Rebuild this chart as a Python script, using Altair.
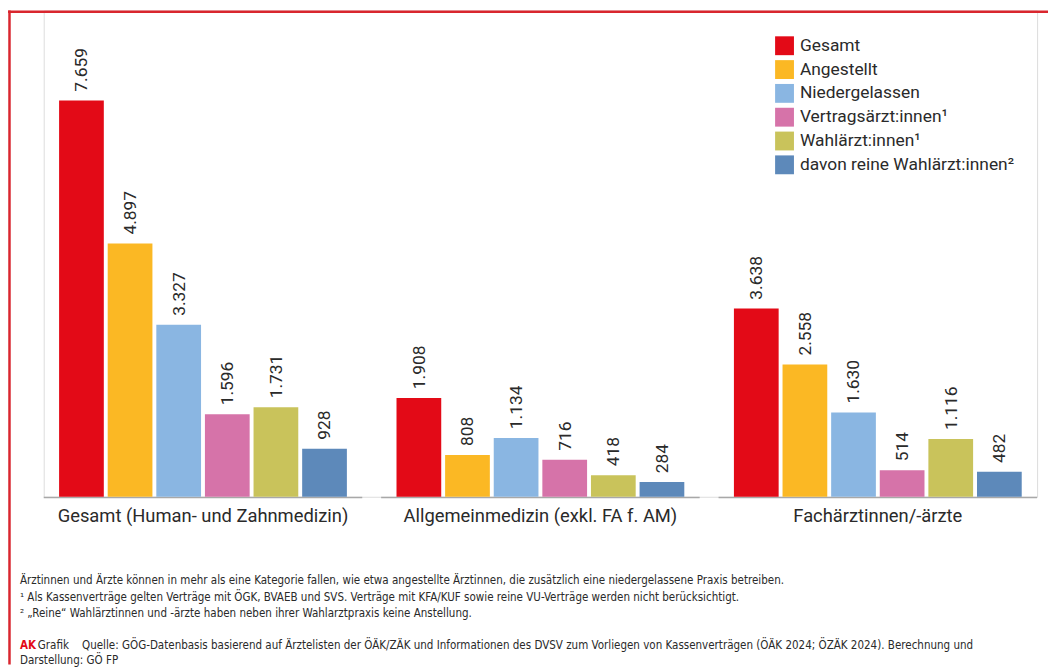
import altair as alt
import pandas as pd

groups = ["Gesamt (Human- und Zahnmedizin)", "Allgemeinmedizin (exkl. FA f. AM)", "Fachärztinnen/-ärzte"]
categories = ["Gesamt", "Angestellt", "Niedergelassen", "Vertragsärzt:innen¹", "Wahlärzt:innen¹", "davon reine Wahlärzt:innen²"]
colors = ["#E30A17", "#FBB824", "#8AB6E2", "#D673A9", "#C9C35B", "#5D89BA"]
values_gesamt = [7659, 4897, 3327, 1596, 1731, 928]
values_allgemein = [1908, 808, 1134, 716, 418, 284]
values_fach = [3638, 2558, 1630, 514, 1116, 482]

notes = [
    "Ärztinnen und Ärzte können in mehr als eine Kategorie fallen, wie etwa angestellte Ärztinnen, die zusätzlich eine niedergelassene Praxis betreiben.",
    "¹ Als Kassenverträge gelten Verträge mit ÖGK, BVAEB und SVS. Verträge mit KFA/KUF sowie reine VU-Verträge werden nicht berücksichtigt.",
    "² „Reine“ Wahlärztinnen und -ärzte haben neben ihrer Wahlarztpraxis keine Anstellung.",
]
source_tag = "AK"
source_lines = [
    "Grafik\u00a0\u00a0\u00a0\u00a0Quelle: GÖG-Datenbasis basierend auf Ärztelisten der ÖÄK/ZÄK und Informationen des DVSV zum Vorliegen von Kassenverträgen (ÖÄK 2024; ÖZÄK 2024). Berechnung und",
    "Darstellung: GÖ FP",
]

rows = []
for g, vals in zip(groups, [values_gesamt, values_allgemein, values_fach]):
    for c, v in zip(categories, vals):
        rows.append({"group": g, "cat": c, "value": v, "label": f"{v:,}".replace(",", ".")})
df = pd.DataFrame(rows)

W, H = 1001, 490
FONT = "Roboto"
NFONT = "'Liberation Sans Narrow', 'DejaVu Sans Condensed', Roboto"
TXT = "#2a2a2a"

xs = alt.Scale(domain=groups, paddingInner=0.056, paddingOuter=0)
xo = alt.Scale(domain=categories, paddingInner=0.08, paddingOuter=0.316)
ys = alt.Scale(domain=[0, 9400], nice=False, zero=True)

base = alt.Chart(df)

bars = base.mark_bar().encode(
    x=alt.X("group:N", scale=xs, sort=groups, title=None,
            axis=alt.Axis(domain=False, ticks=False, labelFontSize=18.5, labelFont=FONT,
                          labelColor=TXT, labelPadding=19, labelAngle=0, labelLimit=500,
                          labelAlign="center")),
    xOffset=alt.XOffset("cat:N", scale=xo, sort=categories),
    y=alt.Y("value:Q", scale=ys, axis=None),
    color=alt.Color("cat:N", sort=categories,
                    scale=alt.Scale(domain=categories, range=colors),
                    legend=alt.Legend(title=None, orient="none", legendX=737, legendY=26,
                                      symbolType="square", symbolSize=361, symbolStrokeWidth=0,
                                      labelFontSize=17.5, labelFont=FONT, labelColor=TXT,
                                      labelOffset=6, rowPadding=5, padding=0, labelLimit=400)),
)

labels = base.mark_text(angle=270, align="left", baseline="middle", dx=9, dy=1,
                        fontSize=17.5, font=FONT, color=TXT).encode(
    x=alt.X("group:N", scale=xs, sort=groups),
    xOffset=alt.XOffset("cat:N", scale=xo, sort=categories),
    y=alt.Y("value:Q", scale=ys, axis=None),
    text="label:N",
)

baseline = alt.Chart(pd.DataFrame({"group": groups})).mark_bar(color="#A8A8A8").encode(
    x=alt.X("group:N", scale=xs, sort=groups),
    y=alt.value(H),
    y2=alt.value(H + 1.5),
)

one = pd.DataFrame({"a": [0]})


def text_line(t, x, y, color=TXT, weight="normal"):
    return alt.Chart(one).mark_text(
        align="left", baseline="middle", fontSize=11.6, font=NFONT,
        color=color, fontWeight=weight, text=t,
    ).encode(x=alt.value(x), y=alt.value(y))


note_layers = [text_line(t, -24, y) for t, y in zip(notes, [575, 592, 608])]
src_layers = [
    text_line(source_tag, -24, 640, color="#E30A17", weight="bold"),
    text_line(source_lines[0], -6, 640),
    text_line(source_lines[1], -24, 656),
]

frame_left = alt.Chart(one).mark_rule(color="#D9262E", strokeWidth=2.5).encode(
    x=alt.value(-34.5), y=alt.value(0), y2=alt.value(H + 169))
frame_top = alt.Chart(one).mark_rule(color="#D9262E", strokeWidth=2.5).encode(
    x=alt.value(-36), x2=alt.value(W + 11), y=alt.value(1.2))

chart = alt.layer(
    baseline, bars, labels, *note_layers, *src_layers, frame_left, frame_top
).properties(
    width=W, height=H,
    autosize=alt.AutoSizeParams(type="none"),
    padding={"left": 36, "top": 0, "right": 11, "bottom": 169},
).configure_view(stroke=None).configure(background="white")

chart.save("out.html", embed_options={"renderer": "svg", "actions": False})
